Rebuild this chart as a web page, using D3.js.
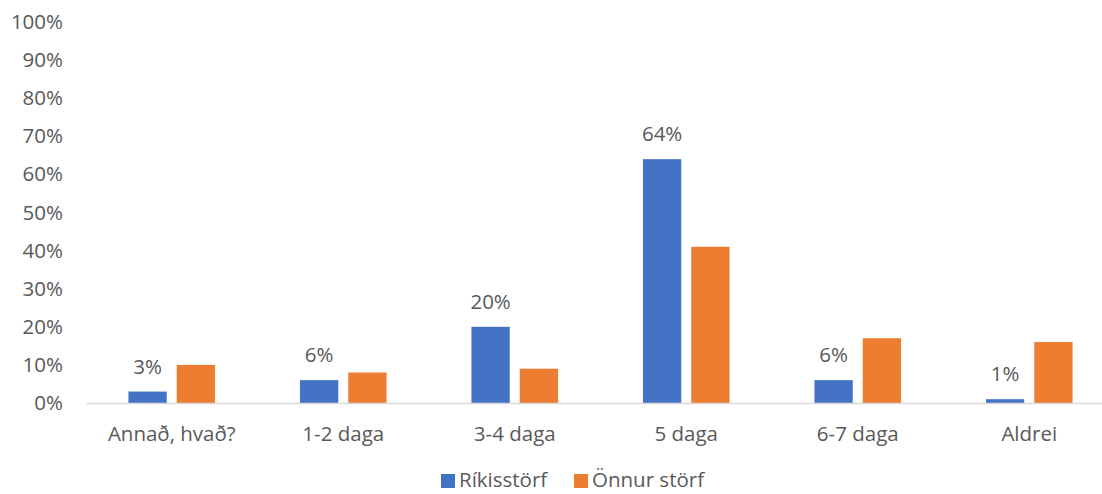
<!DOCTYPE html>
<html>
<head>
<meta charset="utf-8">
<script src="https://cdn.jsdelivr.net/npm/d3@7"></script>
<style>
  body { margin: 0; background: #fff; }
  text { font-family: 'Open Sans', 'Noto Sans', sans-serif; fill: #595959; }
</style>
</head>
<body>
<div id="chart"></div>
<script>
'use strict'

// Data
var categories = ['Annað, hvað?', '1-2 daga', '3-4 daga', '5 daga', '6-7 daga', 'Aldrei']
var series = ['Ríkisstörf', 'Önnur störf']
var rikis = [3, 6, 20, 64, 6, 1]
var onnur = [10, 8, 9, 41, 17, 16]
var colors = ['#4472c4', '#ed7d31']
var yticks = [0, 10, 20, 30, 40, 50, 60, 70, 80, 90, 100]

var W = 1102, H = 494
var FS = '20.5px'
var svg = d3.select('#chart').append('svg')
  .attr('width', W).attr('height', H)

var scale_x = d3.scaleBand()
  .domain(categories)
  .range([86, 1115])
  .paddingInner(0.495)
  .paddingOuter(0.2475)

var scale_s = d3.scaleBand()
  .domain(series)
  .range([0, scale_x.bandwidth()])
  .paddingInner(0.207)

var scale_y = d3.scaleLinear()
  .domain([0, 100])
  .range([403, 22])

// y axis labels, no line, no ticks
var yAxis = svg.append('g')
  .attr('transform', 'translate(63,0)')
  .call(d3.axisLeft(scale_y).tickValues(yticks).tickSize(0).tickPadding(0)
    .tickFormat(function(d) { return d + '%' }))
yAxis.select('.domain').remove()
yAxis.selectAll('text')
  .style('font-size', FS)
  .attr('fill', '#595959')
  .attr('font-family', null)

// bars
var rows = categories.map(function(c, i) { return [c, [rikis[i], onnur[i]]] })
var groups = svg.selectAll('g.grp')
  .data(rows)
  .enter().append('g')
  .attr('class', 'grp')
  .attr('transform', function(d) { return 'translate(' + scale_x(d[0]) + ',0)' })

groups.selectAll('rect')
  .data(function(d) { return d[1].map(function(v, j) { return [series[j], v, j] }) })
  .enter().append('rect')
  .attr('x', function(d) { return scale_s(d[0]) })
  .attr('width', scale_s.bandwidth())
  .attr('y', function(d) { return scale_y(d[1]) })
  .attr('height', function(d) { return scale_y(0) - scale_y(d[1]) })
  .attr('fill', function(d) { return colors[d[2]] })

// data labels only on first series
groups.append('text')
  .attr('x', function(d) { return scale_s(series[0]) + scale_s.bandwidth() / 2 })
  .attr('y', function(d) { return scale_y(d[1][0]) - 18 })
  .attr('text-anchor', 'middle')
  .style('font-size', FS)
  .text(function(d) { return d[1][0] + '%' })

// x axis
var xAxis = svg.append('g')
  .attr('transform', 'translate(0,' + scale_y(0) + ')')
  .call(d3.axisBottom(scale_x).tickSize(0))
xAxis.select('.domain').attr('stroke', '#d9d9d9').attr('stroke-width', 1.5)
xAxis.selectAll('text')
  .style('font-size', FS)
  .attr('fill', '#595959')
  .attr('font-family', null)
  .attr('y', 38)
  .attr('dy', 0)

// legend
var legend = svg.append('g').attr('transform', 'translate(0,487)')
var lx = [441, 574]
series.forEach(function(s, i) {
  legend.append('rect')
    .attr('x', lx[i]).attr('y', -13)
    .attr('width', 14).attr('height', 14)
    .attr('fill', colors[i])
  legend.append('text')
    .attr('x', lx[i] + 18).attr('y', 0)
    .style('font-size', FS)
    .text(s)
})
</script>
</body>
</html>
